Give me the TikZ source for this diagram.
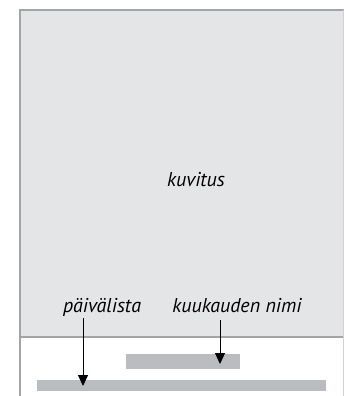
\documentclass[tikz,border=0pt]{standalone}
\usepackage{fontspec}
\setmainfont{PT Sans}
\usetikzlibrary{arrows.meta}
\definecolor{panel}{HTML}{E4E5E7}
\definecolor{frameline}{HTML}{A3A4A6}
\definecolor{barfill}{HTML}{BBBCBF}
\tikzset{
  frameedge/.style={draw=frameline, line width=1.6pt},
  bar/.style={fill=barfill, draw=none},
  lbl/.style={font=\itshape\fontsize{20}{24}\selectfont, inner sep=0pt, anchor=base},
  pointer/.style={draw=black, line width=1pt, -{Triangle[length=11pt,width=10pt]}}
}
\begin{document}
\begin{tikzpicture}[x=1pt,y=-1pt]
\useasboundingbox (0,0) rectangle (344,396);
\fill[white] (0,0) rectangle (344,396);
\fill[panel] (20,10) rectangle (344,337);
\draw[frameedge] (20,397) -- (20,10) -- (345,10);
\draw[frameedge] (20,337) -- (345,337);
\draw[draw=frameline!50, line width=0.8pt] (343.5,10) -- (343.5,397);
\node[lbl] (kuv) at (196,186) {kuvitus};
\node[lbl] (pv) at (102,312) {päivälista};
\node[lbl] (kn) at (237,312) {kuukauden nimi};
\path[bar] (126,354) rectangle (240,369);
\path[bar] (37,380) rectangle (326,391);
\coordinate (pvs) at (83,318);
\coordinate (pve) at (83,386);
\coordinate (kns) at (220,320);
\coordinate (kne) at (220,364);
\draw[pointer] (pvs) -- (pve);
\draw[pointer] (kns) -- (kne);
\end{tikzpicture}
\end{document}
